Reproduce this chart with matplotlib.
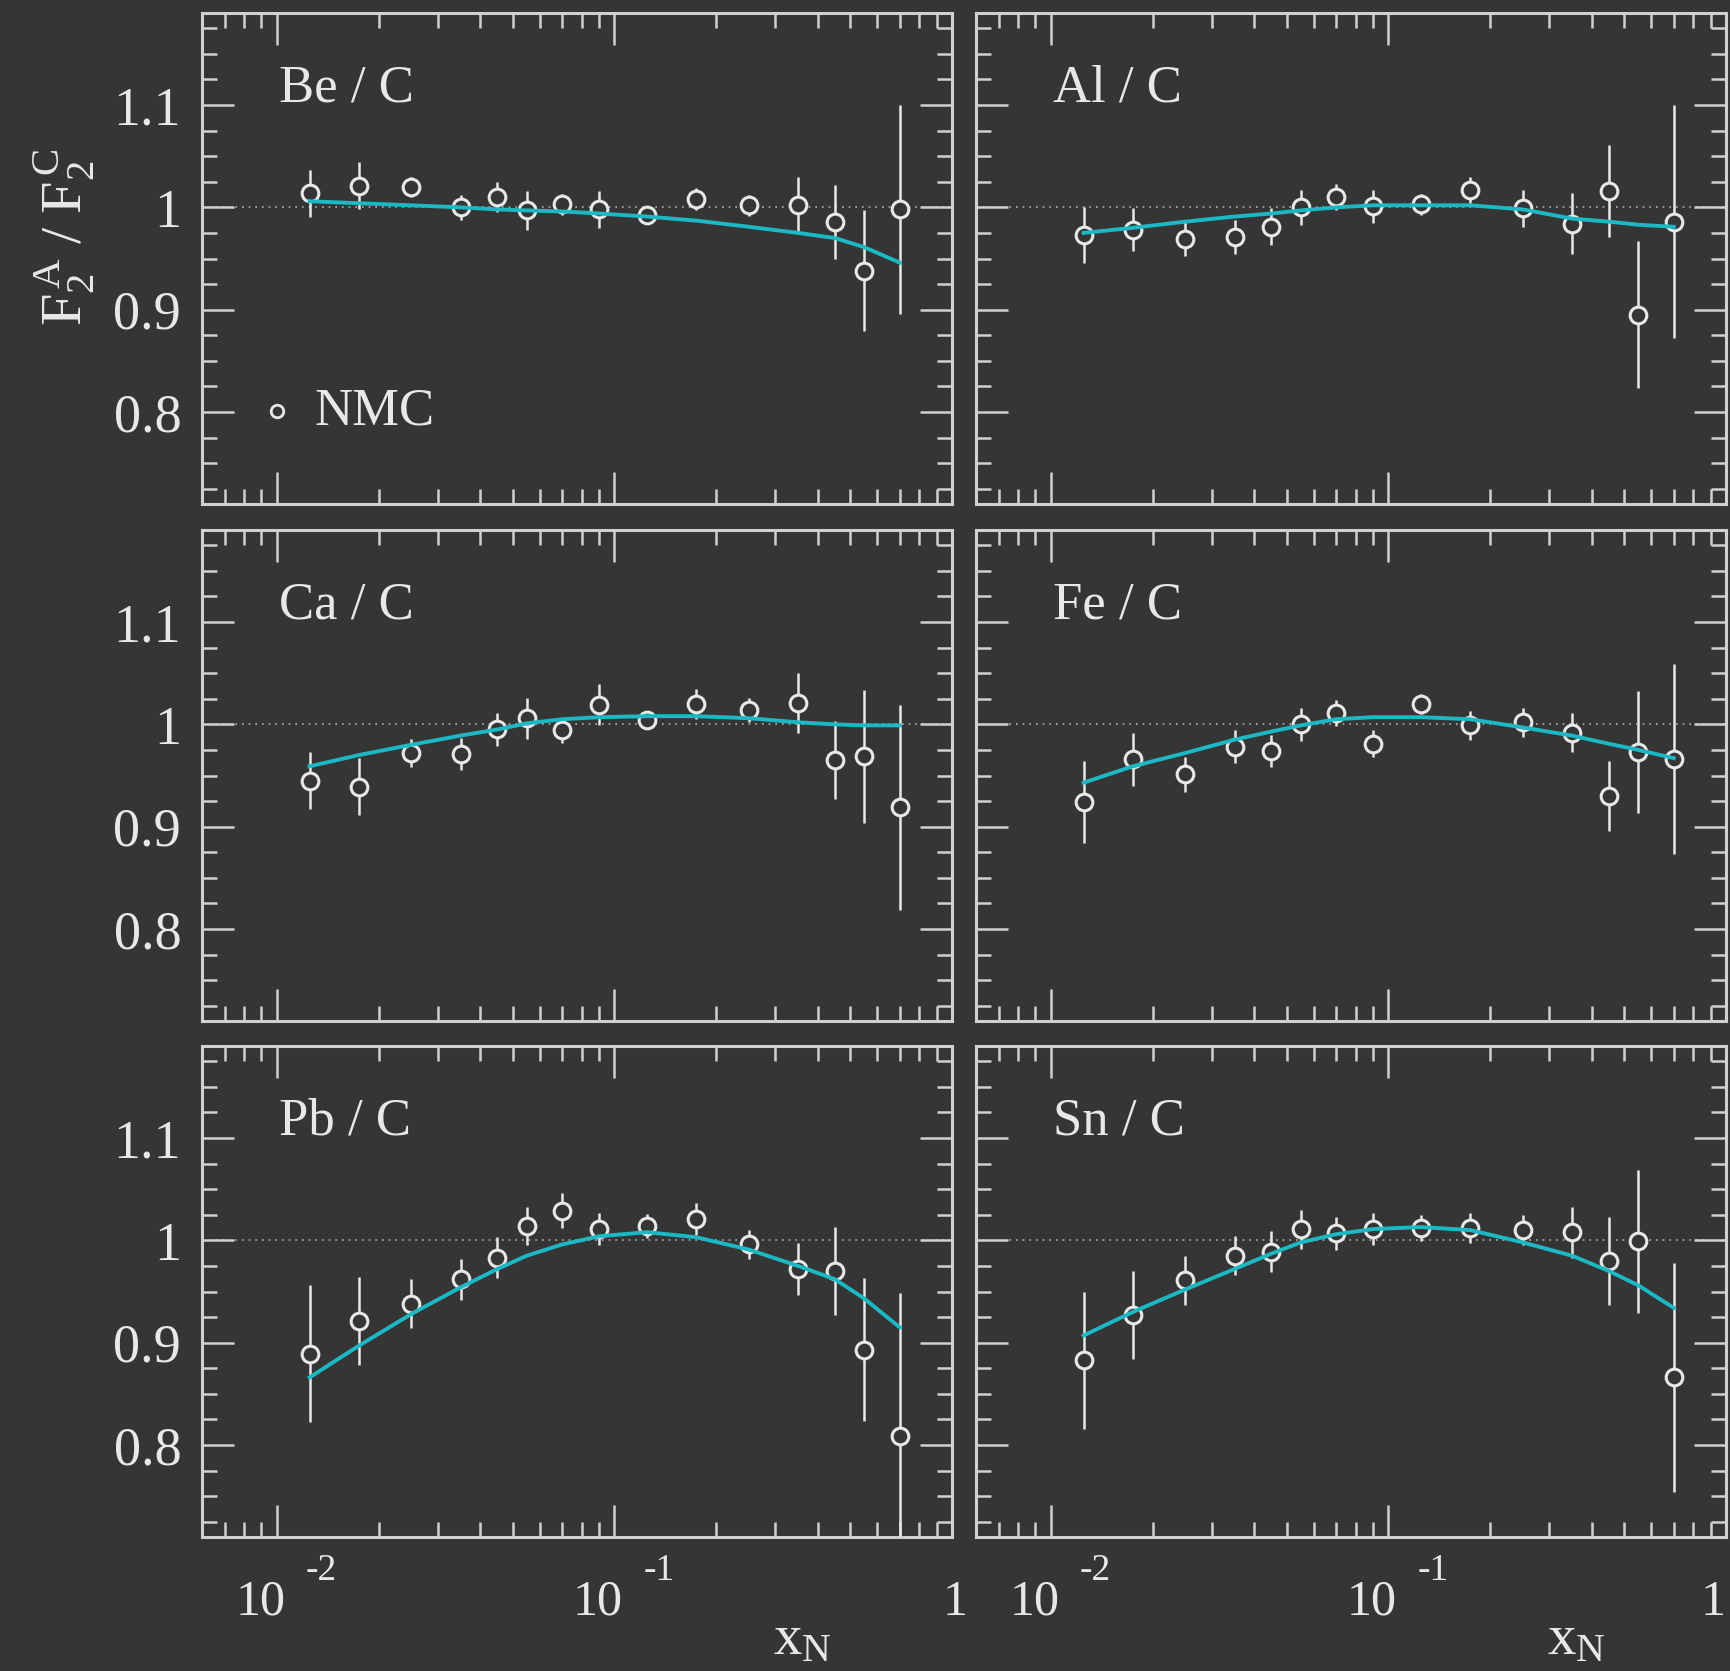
import matplotlib
matplotlib.use("Agg")
import matplotlib.pyplot as plt
from matplotlib.ticker import FixedLocator, FixedFormatter, LogLocator, NullFormatter, MultipleLocator

plt.rcParams['font.family'] = ['Liberation Serif', 'DejaVu Serif']
plt.rcParams['mathtext.fontset'] = 'custom'
plt.rcParams['mathtext.rm'] = 'Liberation Serif'
plt.rcParams['mathtext.it'] = 'Liberation Serif:italic'

# Datos NMC (mismos bins de x para todos los cocientes)
x_nmc = [0.0125, 0.0175, 0.025, 0.035, 0.045, 0.055, 0.070, 0.090,
         0.125, 0.175, 0.25, 0.35, 0.45, 0.55, 0.70]

ratio_be = [1.014, 1.021, 1.020, 1.000, 1.010, 0.997, 1.003, 0.998, 0.993, 1.008, 1.002, 1.002, 0.986, 0.938, 0.998]
err_be = [0.023, 0.023, 0.010, 0.012, 0.015, 0.019, 0.010, 0.018, 0.008, 0.011, 0.010, 0.028, 0.036, 0.059, 0.102]
fit_be = [1.006, 1.004, 1.002, 1.000, 0.998, 0.997, 0.996, 0.994, 0.991, 0.987, 0.981, 0.975, 0.970, 0.961, 0.946]

ratio_al = [0.973, 0.978, 0.969, 0.971, 0.981, 1.000, 1.010, 1.001, 1.003, 1.017, 0.999, 0.984, 1.016, 0.895, 0.986]
err_al = [0.027, 0.021, 0.017, 0.017, 0.018, 0.017, 0.013, 0.016, 0.010, 0.013, 0.018, 0.030, 0.045, 0.072, 0.114]
fit_al = [0.975, 0.980, 0.986, 0.991, 0.994, 0.997, 1.000, 1.002, 1.002, 1.002, 0.998, 0.989, 0.986, 0.983, 0.981]

ratio_ca = [0.945, 0.939, 0.972, 0.971, 0.995, 1.006, 0.994, 1.019, 1.004, 1.020, 1.014, 1.021, 0.965, 0.969, 0.919]
err_ca = [0.028, 0.028, 0.014, 0.016, 0.016, 0.020, 0.012, 0.020, 0.009, 0.015, 0.012, 0.029, 0.038, 0.065, 0.100]
fit_ca = [0.959, 0.970, 0.980, 0.989, 0.995, 1.001, 1.005, 1.007, 1.008, 1.008, 1.006, 1.002, 1.000, 0.999, 0.999]

ratio_fe = [0.924, 0.966, 0.951, 0.978, 0.974, 1.000, 1.011, 0.981, 1.020, 0.999, 1.002, 0.992, 0.930, 0.973, 0.966]
err_fe = [0.040, 0.026, 0.017, 0.016, 0.016, 0.016, 0.013, 0.013, 0.010, 0.014, 0.014, 0.019, 0.034, 0.060, 0.093]
fit_fe = [0.943, 0.959, 0.972, 0.985, 0.993, 0.999, 1.005, 1.007, 1.007, 1.005, 0.997, 0.989, 0.981, 0.975, 0.967]

ratio_pb = [0.889, 0.921, 0.938, 0.962, 0.983, 1.014, 1.029, 1.011, 1.014, 1.021, 0.996, 0.972, 0.970, 0.893, 0.809]
err_pb = [0.067, 0.043, 0.024, 0.020, 0.020, 0.019, 0.017, 0.016, 0.012, 0.016, 0.014, 0.025, 0.043, 0.070, 0.140]
fit_pb = [0.866, 0.897, 0.928, 0.954, 0.972, 0.985, 0.996, 1.004, 1.008, 1.003, 0.991, 0.975, 0.962, 0.943, 0.915]

ratio_sn = [0.883, 0.927, 0.961, 0.985, 0.989, 1.011, 1.007, 1.011, 1.012, 1.012, 1.010, 1.008, 0.980, 0.999, 0.866]
err_sn = [0.067, 0.043, 0.024, 0.019, 0.020, 0.019, 0.016, 0.016, 0.013, 0.015, 0.015, 0.025, 0.043, 0.070, 0.112]
fit_sn = [0.907, 0.930, 0.952, 0.972, 0.987, 0.998, 1.006, 1.011, 1.013, 1.010, 0.998, 0.985, 0.970, 0.956, 0.934]

etiquetas = ["Be / C", "Al / C", "Ca / C", "Fe / C", "Pb / C", "Sn / C"]
cocientes = [ratio_be, ratio_al, ratio_ca, ratio_fe, ratio_pb, ratio_sn]
errores = [err_be, err_al, err_ca, err_fe, err_pb, err_sn]
ajustes = [fit_be, fit_al, fit_ca, fit_fe, fit_pb, fit_sn]

y_ticks = [0.8, 0.9, 1.0, 1.1]
y_ticklabels = ["0.8", "0.9", "1", "1.1"]
x_decadas = [0.01, 0.1]
x_exponentes = ["-2", "-1"]

fondo = "#353535"
blanco = "#e8e8e8"
cian = "#1cb8c4"

W, H = 1730, 1671
fig = plt.figure(figsize=(W / 100, H / 100), dpi=100, facecolor=fondo)

col_left = [202 / W, 976 / W]
ancho = 750 / W
row_bottom = [1 - 504 / H, 1 - 1021 / H, 1 - 1537 / H]
alto = 491 / H

for i in range(6):
    fila, col = divmod(i, 2)
    ax = fig.add_axes([col_left[col], row_bottom[fila], ancho, alto], facecolor=fondo)
    ax.set_xscale("log")
    ax.set_xlim(0.006, 1.0)
    ax.set_ylim(0.71, 1.19)

    ax.axhline(1.0, color="#b0b0b0", lw=1.2, ls=(0, (1, 3)), zorder=1)
    ax.errorbar(x_nmc, cocientes[i], yerr=errores[i], fmt="o", ms=12,
                mfc=fondo, mec=blanco, mew=2.2, ecolor=blanco, elinewidth=1.8,
                capsize=0, zorder=3)
    ax.plot(x_nmc, ajustes[i], color=cian, lw=2.8, zorder=4)

    ax.text(0.103, 0.847, etiquetas[i], transform=ax.transAxes, color=blanco,
            fontsize=38, ha="left", va="center")

    for s in ax.spines.values():
        s.set_color("#d0d0d0")
        s.set_linewidth(2.2)

    ax.yaxis.set_major_locator(FixedLocator(y_ticks))
    ax.yaxis.set_minor_locator(MultipleLocator(0.025))
    ax.xaxis.set_major_locator(FixedLocator(x_decadas + [1.0]))
    ax.xaxis.set_minor_locator(LogLocator(base=10, subs=range(2, 10)))
    ax.xaxis.set_minor_formatter(NullFormatter())
    ax.tick_params(which="both", direction="in", top=True, right=True,
                   color="#d0d0d0", labelcolor=blanco, labelsize=39)
    ax.tick_params(which="major", length=23, width=1.8)
    ax.tick_params(which="minor", length=10.5, width=1.8)
    ax.tick_params(axis="y", pad=15)

    if col == 0:
        ax.yaxis.set_major_formatter(FixedFormatter(y_ticklabels))
    else:
        ax.set_yticklabels([])
    ax.set_xticklabels([])

    if fila == 2:
        # etiquetas 10^-2, 10^-1 y 1 bajo el eje
        for xd, ex in zip(x_decadas, x_exponentes):
            ax.annotate("10", xy=(xd, 0), xycoords=("data", "axes fraction"),
                        xytext=(6, -47), textcoords="offset points",
                        ha="right", va="center", color=blanco, fontsize=36)
            ax.annotate(ex, xy=(xd, 0), xycoords=("data", "axes fraction"),
                        xytext=(21, -24), textcoords="offset points",
                        ha="left", va="center", color=blanco, fontsize=27)
        ax.annotate("1", xy=(1.0, 0), xycoords=("data", "axes fraction"),
                    xytext=(2 if col == 0 else 0, -47), textcoords="offset points",
                    ha="center" if col == 0 else "right", va="center",
                    color=blanco, fontsize=36)
        ax.text(0.8, -0.21, r"$\mathrm{x_N}$", transform=ax.transAxes,
                color=blanco, fontsize=41, ha="center", va="center")

    if i == 0:
        ax.plot([0.1], [0.189], "o", ms=9, mfc=fondo, mec=blanco, mew=2,
                transform=ax.transAxes, zorder=5)
        ax.text(0.15, 0.189, "NMC", transform=ax.transAxes, color=blanco,
                fontsize=38, ha="left", va="center")

fig.text(0.037, 0.858, r"$\mathrm{F_2^{\,A}\ /\ F_2^{\,C}}$", rotation=90,
         color=blanco, fontsize=42, ha="center", va="center")

fig.savefig("out.png", dpi=100, facecolor=fondo)
